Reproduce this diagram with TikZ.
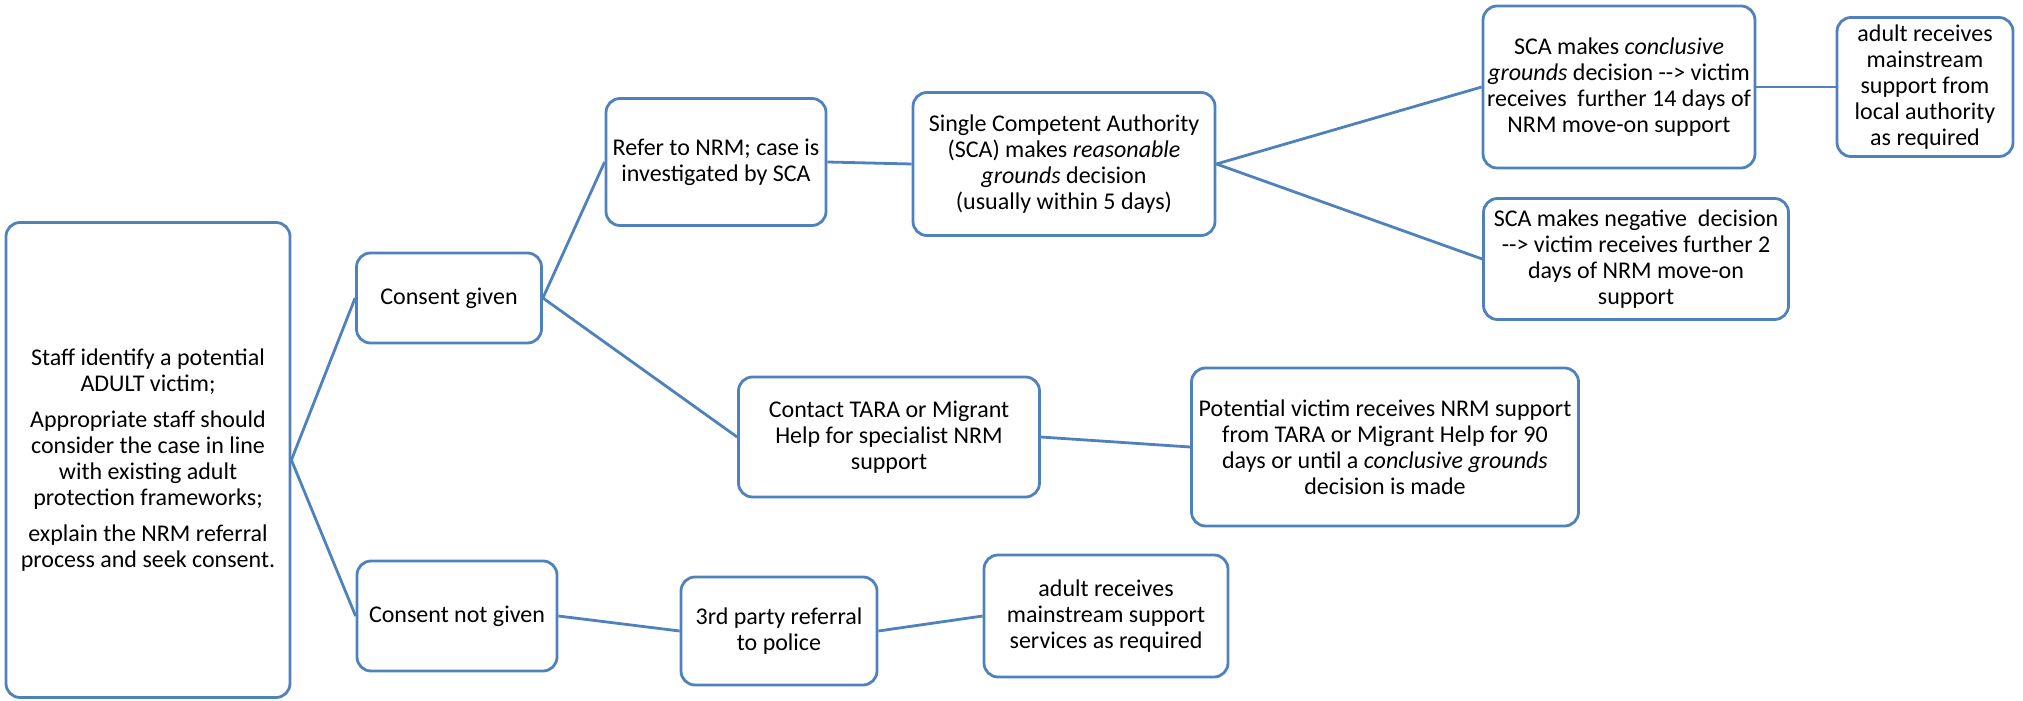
\documentclass[tikz,border=0pt]{standalone}
\usepackage{fontspec}
\setmainfont{Carlito}
\usetikzlibrary{positioning}
\definecolor{BoxBlue}{RGB}{79,129,189}
\newcommand{\thenarrow}{-\kern0pt-\kern0pt>}
\tikzset{flow layout/.style={%
    x=0.5pt,
    y=-0.5pt,
    every node/.style={%
        draw=BoxBlue, line width=1.4pt, rounded corners=7pt,
        align=center, inner sep=2pt,
        font=\fontsize{12}{13}\selectfont
    }
}}
\tikzset{link/.style={%
    draw=BoxBlue, line width=1.4pt
}}
\tikzset{box size/.style 2 args={%
    minimum width=#1, minimum height=#2
}}

\begin{document}
\begin{tikzpicture}[flow layout]
    \useasboundingbox (0,0) rectangle (2023,701);

    % first column
    \node[box size={142pt}{237.5pt}] (victim) at (148,460)
        {Staff identify a potential\\ ADULT victim;\\[5pt]
         Appropriate staff should\\ consider the case in line\\ with existing adult\\ protection frameworks;\\[5pt]
         explain the NRM referral\\ process and seek consent.};

    % consent
    \node[box size={92.5pt}{45pt}] (given) at (449,298) {Consent given};
    \node[box size={100pt}{55pt}] (notgiven) at (457,616) {Consent not given};

    % consent given branch
    \node[box size={110pt}{63.5pt}] (refer) at (716,162) {Refer to NRM; case is\\ investigated by SCA};
    \node[box size={151pt}{71.5pt}] (reasonable) at (1064,164)
        {Single Competent Authority\\ (SCA) makes \textit{reasonable}\\ \textit{grounds} decision\\ (usually within 5 days)};
    \node[box size={135.5pt}{81pt}] (conclusive) at (1619,87)
        {SCA makes \textit{conclusive}\\ \textit{grounds} decision \thenarrow{} victim\\ receives~ further 14 days of\\ NRM move-on support};
    \node[box size={88pt}{69.5pt}] (localauth) at (1925,87)
        {adult receives\\ mainstream\\ support from\\ local authority\\ as required};
    \node[box size={152.5pt}{60.5pt}] (negative) at (1636,259)
        {SCA makes negative~ decision\\ \thenarrow{} victim receives further 2\\ days of NRM move-on\\ support};
    \node[box size={150.5pt}{60pt}] (contact) at (889,437)
        {Contact TARA or Migrant\\ Help for specialist NRM\\ support};
    \node[box size={193.5pt}{79pt}] (tara) at (1385,447)
        {Potential victim receives NRM support\\ from TARA or Migrant Help for 90\\ days or until a \textit{conclusive grounds}\\ decision is made};

    % consent not given branch
    \node[box size={98pt}{54pt}] (police) at (779,631) {3rd party referral\\ to police};
    \node[box size={122pt}{61pt}] (services) at (1106,616)
        {adult receives\\ mainstream support\\ services as required};

    % connectors
    \draw[link] (victim.east) -- (given.west);
    \draw[link] (victim.east) -- (notgiven.west);
    \draw[link] (given.east) -- (refer.west);
    \draw[link] (given.east) -- (contact.west);
    \draw[link] (refer.east) -- (reasonable.west);
    \draw[link] (reasonable.east) -- (conclusive.west);
    \draw[link] (reasonable.east) -- (negative.west);
    \draw[link] (conclusive.east) -- (localauth.west);
    \draw[link] (contact.east) -- (tara.west);
    \draw[link] (notgiven.east) -- (police.west);
    \draw[link] (police.east) -- (services.west);
\end{tikzpicture}
\end{document}
